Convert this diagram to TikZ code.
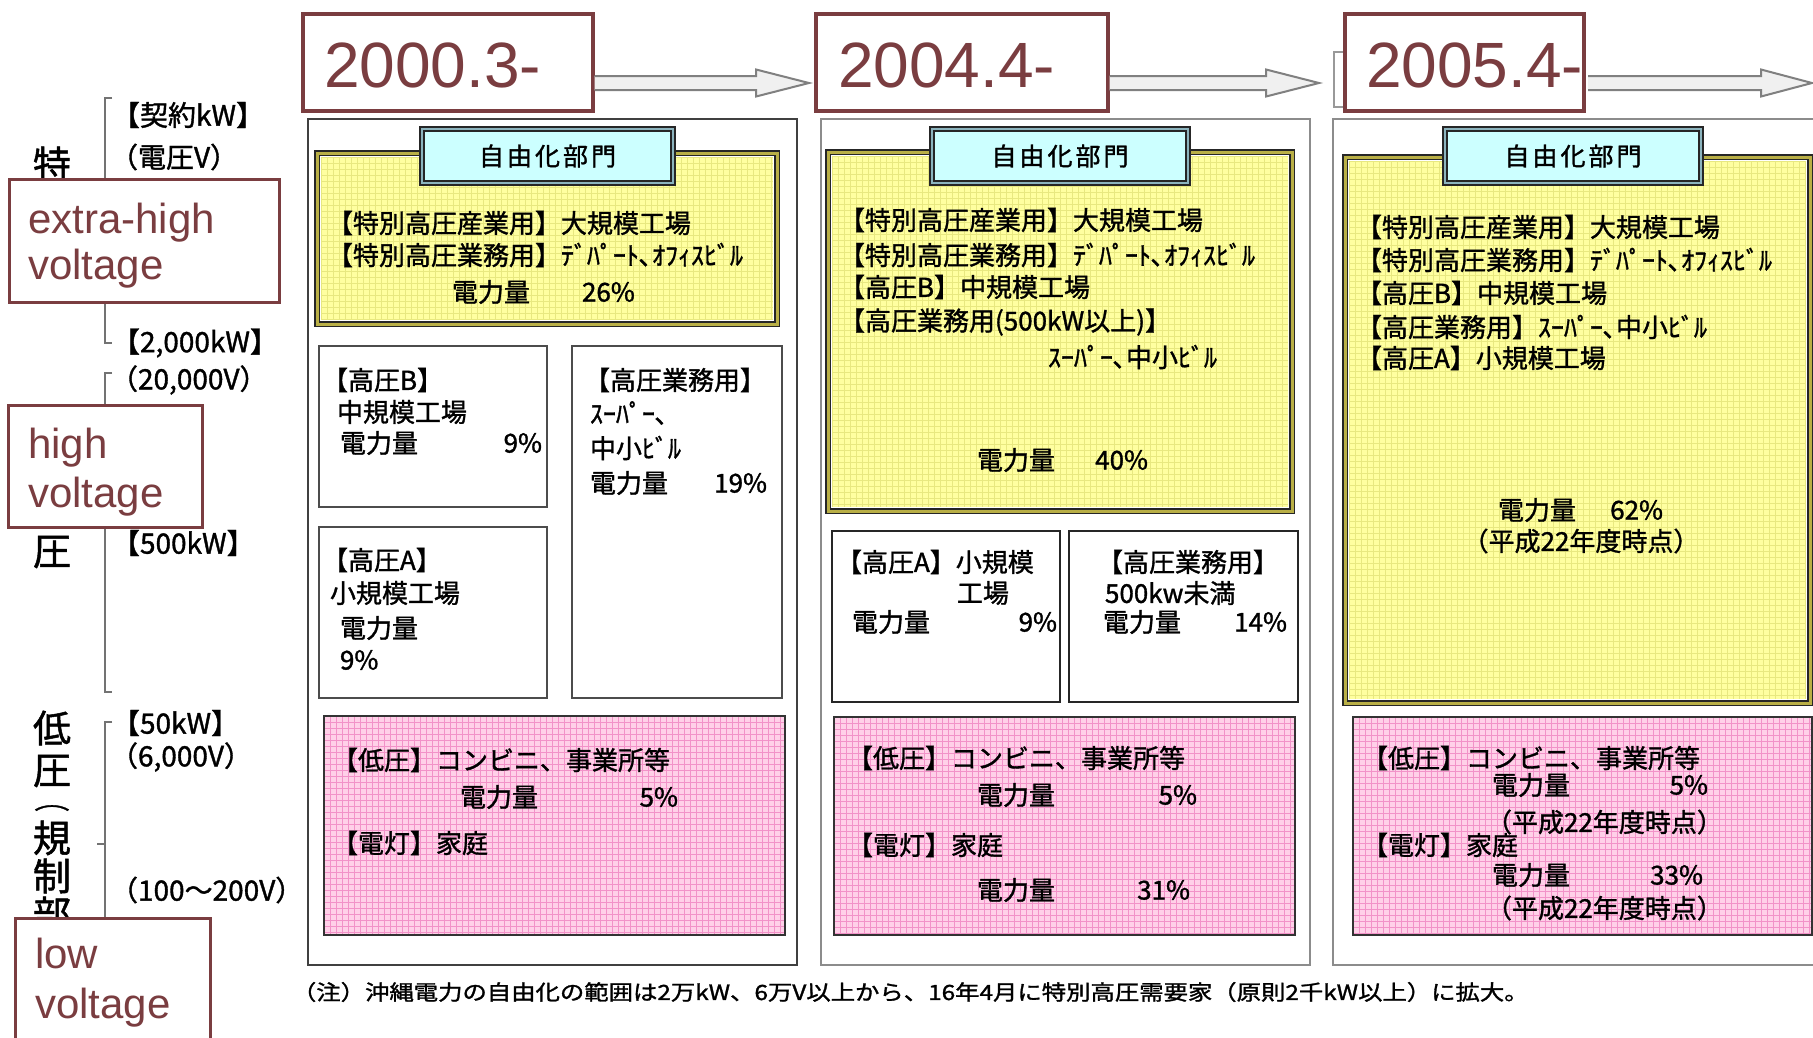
\documentclass[tikz,border=0pt]{standalone}
\usepackage{fontspec}
\setmainfont{Liberation Sans}
\newfontfamily\jp[RawFeature={embolden=1.3}]{Noto Sans CJK JP}
\newfontfamily\en{Liberation Sans}
\usetikzlibrary{calc}
\definecolor{maroon}{RGB}{122,61,64}
\definecolor{yel}{RGB}{255,255,160}
\definecolor{yelgrid}{RGB}{232,232,128}
\definecolor{pnk}{RGB}{255,208,232}
\definecolor{pnkgrid}{RGB}{242,146,200}
\definecolor{olv}{RGB}{185,175,70}
\definecolor{cyn}{RGB}{204,255,255}
\definecolor{cynb}{RGB}{140,180,190}
\newcommand\gridfill[6]{%
  \fill[#5] (#1,#2) rectangle (#3,#4);
  \begin{scope}
    \clip (#1,#2) rectangle (#3,#4);
    \foreach \gstep in {0,6,...,564}{
      \draw[#6, line width=0.6pt] (#1+\gstep,#2) -- (#1+\gstep,#4);
      \draw[#6, line width=0.6pt] (#1,#2+\gstep) -- (#3,#2+\gstep);
    }
  \end{scope}
}
\newcommand\jiyuka{自\hspace{3pt}由\hspace{3pt}化\hspace{3pt}部\hspace{3pt}門}
\begin{document}
\begin{tikzpicture}[x=1pt,y=-1pt,
  every node/.style={inner sep=0pt, outer sep=0pt},
  jt/.style={font=\jp\fontsize{26}{30}\selectfont, anchor=west},
  jr/.style={font=\jp\fontsize{26}{30}\selectfont, anchor=east},
  jc/.style={font=\jp\fontsize{26}{30}\selectfont, anchor=center},
  axl/.style={font=\jp\fontsize{28}{32}\selectfont, anchor=west},
  vk/.style={font=\jp\fontsize{38}{38}\selectfont, anchor=center},
  datebox/.style={draw=maroon, line width=3.5pt, fill=white, anchor=north west},
  datetxt/.style={font=\en\fontsize{64}{64}\selectfont, text=maroon, anchor=base west},
  anno/.style={draw=maroon, line width=3pt, fill=white, anchor=north west},
  annotxt/.style={font=\en\fontsize{42}{46}\selectfont, text=maroon, anchor=base west},
  panel/.style={draw=black!45, line width=2.5pt, fill=white, anchor=north west},
  wbox/.style={draw=black!70, line width=2pt, fill=white, anchor=north west},
  ybox/.style={draw=black!85, double=olv, double distance=3pt, line width=1.3pt, anchor=north west},
  pbox/.style={draw=black!80, line width=2pt, anchor=north west},
  lbox/.style={draw=black!85, double=cynb, double distance=2.5pt, line width=1.3pt, fill=cyn, anchor=north west},
  lbltxt/.style={font=\jp\fontsize{25}{30}\selectfont, anchor=center},
  arrowshape/.style={draw=black!50, line width=2pt, fill=black!6},
  bracket/.style={draw=black!55, line width=1.3pt}
]
\useasboundingbox (0,0) rectangle (1813,1037);
\clip (0,0) rectangle (1813,1037);
\fill[white] (0,0) rectangle (1813,1037);

% ---------------- left axis -----------------
\node[vk] (v1) at (52,164) {特};
\node[vk] (v3) at (52,552) {圧};
\node[vk] (v4) at (52,728) {低};
\node[vk] (v5) at (52,771) {圧};
\node[font=\jp\fontsize{22}{22}\selectfont, anchor=center] (v6) at (52,808) {\scalebox{1.6}[1]{︵}};
\node[vk] (v7) at (52,838) {規};
\node[vk] (v8) at (52,876) {制};
\node[vk] (v9) at (52,914) {部};

\draw[bracket] (112,98) -- (105,98) -- (105,343) -- (112,343);
\draw[bracket] (112,373) -- (105,373) -- (105,692) -- (112,692);
\draw[bracket] (98,527) -- (105,527);
\draw[bracket] (112,722) -- (105,722) -- (105,930);
\draw[bracket] (97,844) -- (105,844);

\node[axl] (k1) at (112,115) {【契約kW】};
\node[axl] (k2) at (110,157) {（電圧V）};
\node[axl] (k3) at (112,343) {【2,000kW】};
\node[axl] (k4) at (110,380) {（20,000V）};
\node[axl] (k5) at (112,543) {【500kW】};
\node[axl] (k6) at (112,723) {【50kW】};
\node[axl] (k7) at (110,757) {（6,000V）};
\node[axl] (k8) at (110,890) {（100〜200V）};

% ---------------- panels -----------------
\node[panel, draw=black!75, minimum width=489pt, minimum height=846pt] (p1) at (308,119) {};
\node[panel, minimum width=489pt, minimum height=846pt] (p2) at (821,119) {};
\node[panel, minimum width=520pt, minimum height=846pt] (p3) at (1333,119) {};

% ---------------- panel 1 -----------------
\gridfill{321}{157}{773}{320}{yel}{yelgrid}
\node[ybox, minimum width=460pt, minimum height=171pt] (y1) at (317,153) {};
\node[lbox, minimum width=251pt, minimum height=54pt] (l1) at (422,129) {};
\node[lbltxt] (l1t) at (l1.center) {\jiyuka};
\node[jt] (t1a) at (327,223) {【特別高圧産業用】大規模工場};
\node[jt] (t1b) at (327,255) {【特別高圧業務用】ﾃﾞﾊﾟｰﾄ､ｵﾌｨｽﾋﾞﾙ};
\node[jt] (t1c) at (452,292) {電力量};
\node[jt] (t1d) at (582,292) {26\%};

\node[wbox, minimum width=228pt, minimum height=161pt] (b1) at (319,346) {};
\node[jt] (b1a) at (322,380) {【高圧B】};
\node[jt] (b1b) at (337,412) {中規模工場};
\node[jt] (b1c) at (340,443) {電力量};
\node[jr] (b1d) at (542,443) {9\%};

\node[wbox, minimum width=228pt, minimum height=171pt] (a1) at (319,527) {};
\node[jt] (a1a) at (322,560) {【高圧A】};
\node[jt] (a1b) at (330,593) {小規模工場};
\node[jt] (a1c) at (340,628) {電力量};
\node[jt] (a1d) at (340,660) {9\%};

\node[wbox, minimum width=210pt, minimum height=352pt] (g1) at (572,346) {};
\node[jt] (g1a) at (584,380) {【高圧業務用】};
\node[jt] (g1b) at (590,413) {ｽｰﾊﾟｰ､};
\node[jt] (g1c) at (590,448) {中小ﾋﾞﾙ};
\node[jt] (g1d) at (590,483) {電力量};
\node[jr] (g1e) at (767,483) {19\%};

\gridfill{324}{716}{785}{935}{pnk}{pnkgrid}
\node[pbox, minimum width=461pt, minimum height=219pt] (q1) at (324,716) {};
\node[jt] (q1a) at (332,760) {【低圧】コンビニ、事業所等};
\node[jt] (q1b) at (460,797) {電力量};
\node[jr] (q1c) at (678,797) {5\%};
\node[jt] (q1d) at (332,843) {【電灯】家庭};

% ---------------- panel 2 -----------------
\gridfill{832}{156}{1288}{507}{yel}{yelgrid}
\node[ybox, minimum width=464pt, minimum height=359pt] (y2) at (828,152) {};
\node[lbox, minimum width=256pt, minimum height=54pt] (l2) at (932,129) {};
\node[lbltxt] (l2t) at (l2.center) {\jiyuka};
\node[jt] (t2a) at (839,220) {【特別高圧産業用】大規模工場};
\node[jt] (t2b) at (839,255) {【特別高圧業務用】ﾃﾞﾊﾟｰﾄ､ｵﾌｨｽﾋﾞﾙ};
\node[jt] (t2c) at (839,287) {【高圧B】中規模工場};
\node[jt] (t2d) at (839,322) {【高圧業務用(500kW以上)】};
\node[jt] (t2e) at (1048,357) {ｽｰﾊﾟｰ､中小ﾋﾞﾙ};
\node[jt] (t2f) at (977,460) {電力量};
\node[jr] (t2g) at (1148,460) {40\%};

\node[wbox, draw=black!85, minimum width=228pt, minimum height=171pt] (a2) at (832,531) {};
\node[jt] (a2a) at (836,562) {【高圧A】小規模};
\node[jt] (a2b) at (957,593) {工場};
\node[jt] (a2c) at (852,622) {電力量};
\node[jr] (a2d) at (1057,622) {9\%};

\node[wbox, draw=black!85, minimum width=229pt, minimum height=171pt] (g2) at (1069,531) {};
\node[jt] (g2a) at (1097,562) {【高圧業務用】};
\node[jt] (g2b) at (1105,593) {500kw未満};
\node[jt] (g2c) at (1103,622) {電力量};
\node[jr] (g2d) at (1287,622) {14\%};

\gridfill{834}{717}{1295}{935}{pnk}{pnkgrid}
\node[pbox, minimum width=461pt, minimum height=218pt] (q2) at (834,717) {};
\node[jt] (q2a) at (847,758) {【低圧】コンビニ、事業所等};
\node[jt] (q2b) at (977,795) {電力量};
\node[jr] (q2c) at (1197,795) {5\%};
\node[jt] (q2d) at (847,845) {【電灯】家庭};
\node[jt] (q2e) at (977,890) {電力量};
\node[jr] (q2f) at (1190,890) {31\%};

% ---------------- panel 3 -----------------
\gridfill{1349}{161}{1806}{699}{yel}{yelgrid}
\node[ybox, minimum width=465pt, minimum height=546pt] (y3) at (1345,157) {};
\node[lbox, minimum width=256pt, minimum height=54pt] (l3) at (1445,129) {};
\node[lbltxt] (l3t) at (l3.center) {\jiyuka};
\node[jt] (t3a) at (1356,227) {【特別高圧産業用】大規模工場};
\node[jt] (t3b) at (1356,260) {【特別高圧業務用】ﾃﾞﾊﾟｰﾄ､ｵﾌｨｽﾋﾞﾙ};
\node[jt] (t3c) at (1356,293) {【高圧B】中規模工場};
\node[jt] (t3d) at (1356,327) {【高圧業務用】ｽｰﾊﾟｰ､中小ﾋﾞﾙ};
\node[jt] (t3e) at (1356,358) {【高圧A】小規模工場};
\node[jt] (t3f) at (1498,510) {電力量};
\node[jr] (t3g) at (1663,510) {62\%};
\node[jc] (t3h) at (1581,541) {（平成22年度時点）};

\gridfill{1353}{717}{1812}{935}{pnk}{pnkgrid}
\node[pbox, minimum width=459pt, minimum height=218pt] (q3) at (1353,717) {};
\node[jt] (q3a) at (1362,758) {【低圧】コンビニ、事業所等};
\node[jt] (q3b) at (1492,785) {電力量};
\node[jr] (q3c) at (1708,785) {5\%};
\node[jt] (q3d) at (1486,822) {（平成22年度時点）};
\node[jt] (q3e) at (1362,845) {【電灯】家庭};
\node[jt] (q3f) at (1492,875) {電力量};
\node[jr] (q3g) at (1703,875) {33\%};
\node[jt] (q3h) at (1486,908) {（平成22年度時点）};

% ---------------- footnote -----------------
\node[font=\jp\fontsize{21}{24}\selectfont, anchor=west] (note) at (292,992)
  {\scalebox{1.16}[1]{（注）沖縄電力の自由化の範囲は2万kW、6万V以上から、16年4月に特別高圧需要家（原則2千kW以上）に拡大。}};

% ---------------- timeline -----------------
\draw[black!40, line width=1.2pt] (1352,52) -- (1334,52) -- (1334,107) -- (1352,107);
\node[datebox, minimum width=290pt, minimum height=97pt] (d1) at (303,14) {};
\node[datebox, minimum width=292pt, minimum height=97pt] (d2) at (816,14) {};
\node[datebox, minimum width=239pt, minimum height=97pt] (d3) at (1345,14) {};
\node[datetxt] (d1t) at (324,87) {2000.3-};
\node[datetxt] (d2t) at (838,87) {2004.4-};
\node[datetxt] (d3t) at (1366,87) {2005.4-};
\coordinate (a3end) at (1812,83);

\draw[arrowshape] let \p1=($(d1.south east)+(1.5,-28)$), \p2=($(d2.south west)+(-7,-28)$) in
  (\x1,\y1+7pt) -- (\x2-53pt,\y1+7pt) -- (\x2-53pt,\y1+13.5pt) -- (\x2,\y1) --
  (\x2-53pt,\y1-13.5pt) -- (\x2-53pt,\y1-7pt) -- (\x1,\y1-7pt);
\draw[arrowshape] let \p1=($(d2.south east)+(1.5,-28)$), \p2=($(d3.south west)+(-26,-28)$) in
  (\x1,\y1+7pt) -- (\x2-53pt,\y1+7pt) -- (\x2-53pt,\y1+13.5pt) -- (\x2,\y1) --
  (\x2-53pt,\y1-13.5pt) -- (\x2-53pt,\y1-7pt) -- (\x1,\y1-7pt);
\draw[arrowshape] let \p1=($(d3.south east)+(4,-28)$), \p2=(a3end) in
  (\x1,\y1+7pt) -- (\x2-51pt,\y1+7pt) -- (\x2-51pt,\y1+13.5pt) -- (\x2,\y1) --
  (\x2-51pt,\y1-13.5pt) -- (\x2-51pt,\y1-7pt) -- (\x1,\y1-7pt);

% ---------------- annotation boxes -----------------
\node[anno, minimum width=270pt, minimum height=123pt] (eh) at (9,179) {};
\node[annotxt] (eh1) at (28,233) {extra-high};
\node[annotxt] (eh2) at (28,279) {voltage};
\node[anno, minimum width=194pt, minimum height=122pt] (hv) at (8,405) {};
\node[annotxt] (hv1) at (28,458) {high};
\node[annotxt] (hv2) at (28,507) {voltage};
\node[anno, minimum width=195pt, minimum height=140pt] (lv) at (15,918) {};
\node[annotxt] (lv1) at (35,968) {low};
\node[annotxt] (lv2) at (35,1018) {voltage};
\end{tikzpicture}
\end{document}
